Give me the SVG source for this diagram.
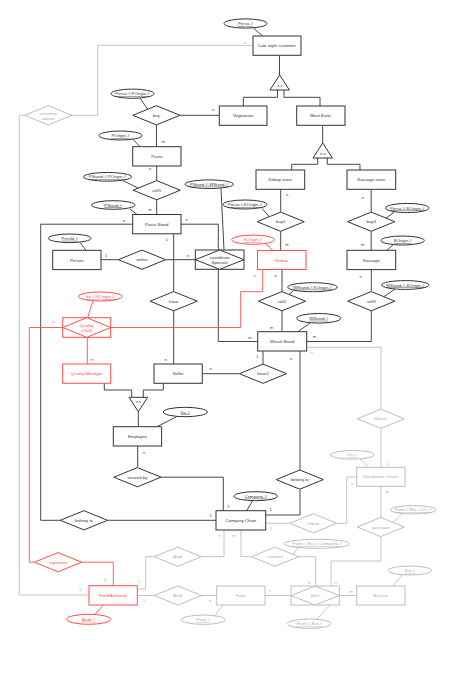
<svg xmlns="http://www.w3.org/2000/svg" width="454" height="687" viewBox="0 0 454 687">
<style>
text{font-family:"Liberation Sans",Arial,sans-serif;font-size:4.3px;text-anchor:middle;dominant-baseline:central}
.k rect,.k polygon,.k ellipse{fill:#fff;stroke:#333;stroke-width:1}
.k text{fill:#333}
.g rect,.g polygon,.g ellipse{fill:#fff;stroke:#bdbdbd;stroke-width:1}
.g text{fill:#aaa}
.r rect,.r polygon,.r ellipse{fill:#fff;stroke:#ff4d4d;stroke-width:1}
.r text{fill:#ff4d4d}
.u{text-decoration:underline}
.tri{font-size:3.4px}
#connectors polyline,#connectors line{fill:none;stroke-width:0.9}
.lk{stroke:#333}.lg{stroke:#bdbdbd}.lr{stroke:#ff4d4d}
.lbl{font-size:4px}
.tk{fill:#333}.tg{fill:#aaa}.tr{fill:#ff4d4d}
</style>
<rect width="454" height="687" fill="#fff"/>
<g id="connectors">
<!-- black -->
<polyline class="lk" points="279.5,55.3 279.5,75"/>
<polyline class="lk" points="277.5,90 277.5,97.3 243.3,97.3 243.3,106"/>
<polyline class="lk" points="284,90 284,97.3 320,97.3 320,106"/>
<polyline class="lk" points="322.7,125.3 322.7,143"/>
<polyline class="lk" points="317.7,158 317.7,164.3 291.7,164.3 291.7,170"/>
<polyline class="lk" points="327.3,158 327.3,164.3 360,164.3 360,170"/>
<polyline class="lk" points="280.7,189.3 280.7,212.1"/>
<polyline class="lk" points="280.7,231.3 280.7,250.5"/>
<polyline class="lk" points="371.2,189.3 371.2,212.1"/>
<polyline class="lk" points="371.2,231.3 371.2,250.3"/>
<polyline class="lk" points="282,269.5 282,291.6"/>
<polyline class="lk" points="282,310.8 282,331.7"/>
<polyline class="lk" points="371.3,269.6 371.3,291.6"/>
<polyline class="lk" points="371.3,310.8 371.3,341.5 306.7,341.5"/>
<polyline class="lk" points="180,115.3 219.3,115.3"/>
<polyline class="lk" points="156.5,124.9 156.5,146.7"/>
<polyline class="lk" points="156.7,166 156.7,180.6"/>
<polyline class="lk" points="156.7,199.8 156.7,214.5"/>
<polyline class="lk" points="132.7,224.2 40.7,224.2 40.7,520.3 60.3,520.3"/>
<polyline class="lk" points="107.5,520.3 216,520.3"/>
<polyline class="lk" points="181,224.2 218.3,224.2 218.3,250"/>
<polyline class="lk" points="173.7,233.8 173.7,291.6"/>
<polyline class="lk" points="173.7,310.8 173.7,364"/>
<polyline class="lk" points="101,259.7 118.4,259.7"/>
<polyline class="lk" points="165.6,259.7 195.3,259.7"/>
<polyline class="lk" points="218.3,269.3 218.3,341.5 257.7,341.5"/>
<polyline class="lk" points="263,351 263,364.1"/>
<polyline class="lk" points="239.4,373.7 202.3,373.7"/>
<polyline class="lk" points="300,351 300,470"/>
<polyline class="lk" points="300,489.2 300,515 265.7,515"/>
<polyline class="lk" points="104.3,383.3 104.3,390 131.7,390 131.7,397.3"/>
<polyline class="lk" points="163.3,383.3 163.3,390 143.3,390 143.3,397.3"/>
<polyline class="lk" points="138.3,411.7 138.3,426.7"/>
<polyline class="lk" points="137.7,446 137.7,467.6"/>
<polyline class="lk" points="161,477.2 223.3,477.2 223.3,510.7"/>
<line class="lk" x1="253.5" y1="28.2" x2="262.7" y2="36"/>
<line class="lk" x1="140" y1="98.2" x2="147.5" y2="109"/>
<line class="lk" x1="133.3" y1="139.6" x2="140" y2="146.7"/>
<line class="lk" x1="123" y1="180.6" x2="138" y2="188"/>
<line class="lk" x1="130" y1="209" x2="137" y2="214.5"/>
<line class="lk" x1="221" y1="188.4" x2="224" y2="250"/>
<line class="lk" x1="262" y1="208.3" x2="269" y2="216.6"/>
<line class="lk" x1="394" y1="212.4" x2="386" y2="218"/>
<line class="lk" x1="393" y1="244.8" x2="387" y2="250.3"/>
<line class="lk" x1="293" y1="291.2" x2="289" y2="294.5"/>
<line class="lk" x1="395" y1="289" x2="384" y2="296.6"/>
<line class="lk" x1="310" y1="323" x2="298" y2="331.7"/>
<line class="lk" x1="80" y1="242.4" x2="86" y2="250.3"/>
<line class="lk" x1="177" y1="416.5" x2="157" y2="426.7"/>
<line class="lk" x1="252.7" y1="500.6" x2="246.7" y2="510.7"/>
<!-- gray -->
<polyline class="lg" points="253,45.3 97.7,45.3 97.7,115.3 71.9,115.3"/>
<polyline class="lg" points="24.7,115.3 19.3,115.3 19.3,595 89,595"/>
<polyline class="lg" points="306.7,347.3 381,347.3 381,409.2"/>
<polyline class="lg" points="381,428.4 381,467.3"/>
<polyline class="lg" points="356.7,477 346.7,477 346.7,523.3 336.9,523.3"/>
<polyline class="lg" points="289.7,523.3 265.7,523.3"/>
<polyline class="lg" points="381,486.3 381,517.4"/>
<polyline class="lg" points="381,536.6 381,561 331,561 331,586"/>
<polyline class="lg" points="298.6,556.7 315.7,556.7 315.7,586"/>
<polyline class="lg" points="241,530 241,556.7 251.4,556.7"/>
<polyline class="lg" points="224,530 224,556.7 201.4,556.7"/>
<polyline class="lg" points="154.2,556.7 145.7,556.7 145.7,589 137.3,589"/>
<polyline class="lg" points="137.3,595.5 154.2,595.5"/>
<polyline class="lg" points="201.4,595.5 216.7,595.5"/>
<polyline class="lg" points="265,595.5 291,595.5"/>
<polyline class="lg" points="339.3,595.5 356.7,595.5"/>
<line class="lg" x1="360" y1="459" x2="368" y2="467.3"/>
<line class="lg" x1="402" y1="513.7" x2="393" y2="522.3"/>
<line class="lg" x1="298" y1="548" x2="293" y2="554.5"/>
<line class="lg" x1="402" y1="575" x2="393.3" y2="586"/>
<line class="lg" x1="317" y1="619" x2="330" y2="605"/>
<line class="lg" x1="215" y1="615.3" x2="223" y2="605"/>
<!-- red -->
<polyline class="lr" points="262.7,269.5 262.7,291.7 240.7,291.7 240.7,327.5 110.7,327.5"/>
<polyline class="lr" points="62.7,327.5 29.3,327.5 29.3,562.2 34.4,562.2"/>
<polyline class="lr" points="87.3,337.3 87.3,364"/>
<polyline class="lr" points="81.6,562.2 113.3,562.2 113.3,585.7"/>
<line class="lr" x1="266" y1="244.1" x2="273" y2="250.5"/>
<line class="lr" x1="93" y1="301" x2="87.5" y2="318"/>
<line class="lr" x1="95" y1="614.3" x2="103.3" y2="605"/>
<!-- labels -->
<text class="lbl tk" x="287" y="194">n</text>
<text class="lbl tk" x="287" y="244">m</text>
<text class="lbl tk" x="362.7" y="197">n</text>
<text class="lbl tk" x="362.7" y="244">m</text>
<text class="lbl tk" x="275.7" y="275.5">n</text>
<text class="lbl tk" x="271.7" y="327">m</text>
<text class="lbl tk" x="360.7" y="276">n</text>
<text class="lbl tk" x="314.3" y="336.5">m</text>
<text class="lbl tk" x="213.3" y="109.5">n</text>
<text class="lbl tk" x="163.3" y="141.5">m</text>
<text class="lbl tk" x="150" y="168.7">n</text>
<text class="lbl tk" x="150" y="209">m</text>
<text class="lbl tk" x="124" y="220">n</text>
<text class="lbl tk" x="210.7" y="515">1</text>
<text class="lbl tk" x="186.7" y="219.3">n</text>
<text class="lbl tk" x="166.7" y="239.3">1</text>
<text class="lbl tk" x="165.7" y="359">n</text>
<text class="lbl tk" x="106" y="255">1</text>
<text class="lbl tk" x="188.3" y="255">n</text>
<text class="lbl tk" x="250" y="337">m</text>
<text class="lbl tk" x="257.3" y="356">1</text>
<text class="lbl tk" x="210.7" y="368.3">n</text>
<text class="lbl tk" x="291" y="358">n</text>
<text class="lbl tk" x="270.7" y="509.3">1</text>
<text class="lbl tk" x="144" y="452">n</text>
<text class="lbl tk" x="228.3" y="506">1</text>
<text class="lbl tg" x="245" y="42">n</text>
<text class="lbl tg" x="80" y="589">1</text>
<text class="lbl tg" x="311.7" y="352">n</text>
<text class="lbl tg" x="387.3" y="463">1</text>
<text class="lbl tg" x="352.3" y="483">n</text>
<text class="lbl tg" x="271" y="528">1</text>
<text class="lbl tg" x="387.3" y="491">m</text>
<text class="lbl tg" x="335.7" y="582">n</text>
<text class="lbl tg" x="309.3" y="582">n</text>
<text class="lbl tg" x="234" y="535">m</text>
<text class="lbl tg" x="219.3" y="535">n</text>
<text class="lbl tg" x="139" y="581">1</text>
<text class="lbl tg" x="144" y="600">1</text>
<text class="lbl tg" x="210" y="600">n</text>
<text class="lbl tg" x="270" y="590">n</text>
<text class="lbl tg" x="351" y="591">m</text>
<text class="lbl tr" x="255" y="275.5">n</text>
<text class="lbl tr" x="53.3" y="321">n</text>
<text class="lbl tr" x="92.3" y="359">m</text>
<text class="lbl tr" x="105.3" y="579.3">1</text>
</g>
<!-- entities -->
<g id="late-night-customer" class="k"><rect x="253" y="36" width="48" height="19.3"/><text x="277" y="45.6">Late night customer</text></g>
<g id="vegetarian" class="k"><rect x="219.3" y="106" width="47.7" height="19.3"/><text x="243.2" y="115.6">Vegetarian</text></g>
<g id="meat-eater" class="k"><rect x="296.7" y="106" width="48.3" height="19.3"/><text x="320.8" y="115.6">Meat Eater</text></g>
<g id="pasta" class="k"><rect x="132.7" y="146.7" width="48.3" height="19.3"/><text x="156.8" y="156.3">Pasta</text></g>
<g id="pasta-stand" class="k"><rect x="132.7" y="214.5" width="48.3" height="19.3"/><text x="156.8" y="224.2">Pasta Stand</text></g>
<g id="person" class="k"><rect x="52.7" y="250.3" width="48.3" height="19.3"/><text x="76.8" y="260">Person</text></g>
<g id="kebap-eater" class="k"><rect x="256" y="170" width="48.7" height="19.3"/><text x="280.3" y="179.7">Kebap eater</text></g>
<g id="sausage-eater" class="k"><rect x="347" y="170" width="48.7" height="19.3"/><text x="371.3" y="179.7">Sausage eater</text></g>
<g id="kebap" class="r"><rect x="257.5" y="250.5" width="48.5" height="19"/><text x="281.7" y="260">Kebap</text></g>
<g id="sausage" class="k"><rect x="347" y="250.3" width="48.7" height="19.3"/><text x="371.3" y="260">Sausage</text></g>
<g id="wurstl-stand" class="k"><rect x="257.7" y="331.7" width="49" height="19.3"/><text x="282.2" y="341.3">Würstl Stand</text></g>
<g id="quality-manager" class="r"><rect x="62.7" y="364" width="48" height="19.3"/><text x="86.7" y="373.7">Quality Manager</text></g>
<g id="seller" class="k"><rect x="154" y="364" width="48.3" height="19.3"/><text x="178.2" y="373.7">Seller</text></g>
<g id="employee" class="k"><rect x="113.3" y="426.7" width="48.3" height="19.3"/><text x="137.5" y="436.3">Employee</text></g>
<g id="distribution-centre" class="g"><rect x="356.7" y="467.3" width="48.3" height="19"/><text x="380.8" y="476.8">Distribution Centre</text></g>
<g id="company-chain" class="k"><rect x="216" y="510.7" width="49.7" height="19.3"/><text x="240.8" y="520.3">Company Chain</text></g>
<g id="food-authority" class="r"><rect x="89" y="585.7" width="48.3" height="19.3"/><text x="113.2" y="595.3">Food Authority</text></g>
<g id="farm" class="g"><rect x="216.7" y="586" width="48.3" height="19"/><text x="240.8" y="595.5">Farm</text></g>
<g id="butcher" class="g"><rect x="356.7" y="586" width="48.3" height="19"/><text x="380.8" y="595.5">Butcher</text></g>
<!-- associative entities -->
<g id="coordinate-specials" class="k"><rect x="195.3" y="250" width="48.7" height="19.3"/><polygon points="195.3,259.7 219.7,250 244,259.7 219.7,269.3"/><text x="219.7" y="257.2">coordinate</text><text x="219.7" y="262.2">Specials</text></g>
<g id="quality-check" class="r"><rect x="62.7" y="317.7" width="48" height="19.6"/><polygon points="62.7,327.5 86.7,317.7 110.7,327.5 86.7,337.3"/><text x="86.7" y="325">Quality</text><text x="86.7" y="330">check</text></g>
<g id="beef" class="g"><rect x="291" y="586" width="48.3" height="19"/><polygon points="291,595.5 315.2,586 339.3,595.5 315.2,605"/><text x="315.2" y="595.5">Beef</text></g>
<!-- is-a -->
<g id="isa-1" class="k"><polygon points="279.7,75 270,90 289.4,90"/><text class="tri" x="279.7" y="86">is a</text></g>
<g id="isa-2" class="k"><polygon points="322.7,143 313,158 332.4,158"/><text class="tri" x="322.7" y="154">is a</text></g>
<g id="isa-3" class="k"><polygon points="129,397.3 147.7,397.3 138.3,411.7"/><text class="tri" x="138.3" y="401.5">is a</text></g>
<!-- relationships -->
<g id="customer-advice" class="g"><polygon points="24.7,115.3 48.3,105.7 71.9,115.3 48.3,124.9"/><text x="48.3" y="113">customer</text><text x="48.3" y="118">advice</text></g>
<g id="buy" class="k"><polygon points="132.8,115.3 156.4,105.7 180,115.3 156.4,124.9"/><text x="156.4" y="115.3">buy</text></g>
<g id="sell1" class="k"><polygon points="133.1,190.2 156.7,180.6 180.3,190.2 156.7,199.8"/><text x="156.7" y="190.2">sell1</text></g>
<g id="buy2" class="k"><polygon points="257.1,221.7 280.7,212.1 304.3,221.7 280.7,231.3"/><text x="280.7" y="221.7">buy2</text></g>
<g id="buy3" class="k"><polygon points="347.6,221.7 371.2,212.1 394.8,221.7 371.2,231.3"/><text x="371.2" y="221.7">buy3</text></g>
<g id="within" class="k"><polygon points="118.4,259.7 142,250.1 165.6,259.7 142,269.3"/><text x="142" y="259.7">within</text></g>
<g id="have" class="k"><polygon points="150.1,301.2 173.7,291.6 197.3,301.2 173.7,310.8"/><text x="173.7" y="301.2">have</text></g>
<g id="sell2" class="k"><polygon points="258.4,301.2 282,291.6 305.6,301.2 282,310.8"/><text x="282" y="301.2">sell2</text></g>
<g id="sell3" class="k"><polygon points="347.7,301.2 371.3,291.6 394.9,301.2 371.3,310.8"/><text x="371.3" y="301.2">sell3</text></g>
<g id="have2" class="k"><polygon points="239.4,373.7 263,364.1 286.6,373.7 263,383.3"/><text x="263" y="373.7">have2</text></g>
<g id="deliver" class="g"><polygon points="357.2,418.8 380.8,409.2 404.4,418.8 380.8,428.4"/><text x="380.8" y="418.8">deliver</text></g>
<g id="insured-by" class="k"><polygon points="113.8,477.2 137.4,467.6 161,477.2 137.4,486.8"/><text x="137.4" y="477.2">insured by</text></g>
<g id="belong-to-right" class="k"><polygon points="276.2,479.6 299.8,470 323.4,479.6 299.8,489.2"/><text x="299.8" y="479.6">belong to</text></g>
<g id="belong-to-left" class="k"><polygon points="60.3,520.3 83.9,510.7 107.5,520.3 83.9,529.9"/><text x="83.9" y="520.3">belong to</text></g>
<g id="inform" class="g"><polygon points="289.7,523.3 313.3,513.7 336.9,523.3 313.3,532.9"/><text x="313.3" y="523.3">inform</text></g>
<g id="purchase" class="g"><polygon points="357.2,527 380.8,517.4 404.4,527 380.8,536.6"/><text x="380.8" y="527">purchase</text></g>
<g id="contract" class="g"><polygon points="251.4,556.7 275,547.1 298.6,556.7 275,566.3"/><text x="275" y="556.7">contract</text></g>
<g id="audit-upper" class="g"><polygon points="154.2,556.7 177.8,547.1 201.4,556.7 177.8,566.3"/><text x="177.8" y="556.7">Audit</text></g>
<g id="audit-lower" class="g"><polygon points="154.2,595.5 177.8,585.9 201.4,595.5 177.8,605.1"/><text x="177.8" y="595.5">Audit</text></g>
<g id="supervise" class="r"><polygon points="34.4,562.2 58,552.6 81.6,562.2 58,571.8"/><text x="58" y="562.2">supervise</text></g>
<!-- attributes -->
<g id="attr-perso" class="k"><ellipse cx="245.5" cy="23.5" rx="21.5" ry="4.6"/><text class="u" x="245.5" y="23.5">Perso-#</text></g>
<g id="attr-perso-porigin" class="k"><ellipse cx="132.5" cy="93.7" rx="21.5" ry="4.6"/><text class="u" x="132.5" y="93.7">Perso-#,POrigin-#</text></g>
<g id="attr-porigin" class="k"><ellipse cx="120.5" cy="135.5" rx="21.5" ry="4.5"/><text class="u" x="120.5" y="135.5">POrigin-#</text></g>
<g id="attr-pstand-porigin" class="k"><ellipse cx="107.5" cy="176.8" rx="24" ry="4.3"/><text class="u" x="107.5" y="176.8">PStand-#,POrigin-#</text></g>
<g id="attr-pstand" class="k"><ellipse cx="113.3" cy="205" rx="21.7" ry="4.3"/><text class="u" x="113.3" y="205">PStand-#</text></g>
<g id="attr-pstand-wstand" class="k"><ellipse cx="209.2" cy="184.2" rx="24.2" ry="4.3"/><text class="u" x="209.2" y="184.2">PStand-#,WStand-#</text></g>
<g id="attr-perso-korigin" class="k"><ellipse cx="245" cy="204.5" rx="22" ry="4.5"/><text class="u" x="245" y="204.5">Perso-#,KOrigin-#</text></g>
<g id="attr-korigin" class="r"><ellipse cx="253" cy="239.7" rx="21.3" ry="4.6"/><text class="u" x="253" y="239.7">KOrigin-#</text></g>
<g id="attr-perso-sorigin" class="k"><ellipse cx="407.3" cy="208" rx="21.7" ry="4.6"/><text class="u" x="407.3" y="208">Perso-#,SOrigin-#</text></g>
<g id="attr-sorigin" class="k"><ellipse cx="402.7" cy="240.5" rx="21.7" ry="4.5"/><text class="u" x="402.7" y="240.5">SOrigin-#</text></g>
<g id="attr-wstand-korigin" class="k"><ellipse cx="312.5" cy="287.2" rx="24.8" ry="4.5"/><text class="u" x="312.5" y="287.2">WStand-#,KOrigin-#</text></g>
<g id="attr-wstand-sorigin" class="k"><ellipse cx="405.3" cy="285" rx="23.7" ry="4.4"/><text class="u" x="405.3" y="285">WStand-#,SOrigin-#</text></g>
<g id="attr-wstand" class="k"><ellipse cx="318.7" cy="318.3" rx="22" ry="4.8"/><text class="u" x="318.7" y="318.3">WStand-#</text></g>
<g id="attr-persid" class="k"><ellipse cx="69.7" cy="238.3" rx="21.3" ry="4.3"/><text class="u" x="69.7" y="238.3">PersId-#</text></g>
<g id="attr-ins-korigin" class="r"><ellipse cx="100.2" cy="296.5" rx="21.8" ry="4.5"/><text class="u" x="100.2" y="296.5">Ins-#,KOrigin-#</text></g>
<g id="attr-ins" class="k"><ellipse cx="185.3" cy="412" rx="22" ry="4.7"/><text class="u" x="185.3" y="412">Ins-#</text></g>
<g id="attr-dc" class="g"><ellipse cx="352.5" cy="454.8" rx="21.8" ry="4.3"/><text class="u" x="352.5" y="454.8">DC-#</text></g>
<g id="attr-company" class="k"><ellipse cx="255.7" cy="496.2" rx="21.7" ry="4.5"/><text class="u" x="255.7" y="496.2">Company-#</text></g>
<g id="attr-farm-but-dc" class="g"><ellipse cx="413.3" cy="509.8" rx="22.7" ry="4.2"/><text class="u" x="413.3" y="509.8">Farm-#,But-#,DC-#</text></g>
<g id="attr-farm-but-company" class="g"><ellipse cx="317.2" cy="543.8" rx="32.8" ry="4.5"/><text class="u" x="317.2" y="543.8">Farm-#,But-#,Company-#</text></g>
<g id="attr-but" class="g"><ellipse cx="410" cy="570.5" rx="21.7" ry="4.5"/><text class="u" x="410" y="570.5">But-#</text></g>
<g id="attr-farm-but" class="g"><ellipse cx="309.3" cy="623.7" rx="21.7" ry="4.7"/><text class="u" x="309.3" y="623.7">Farm-#,But-#</text></g>
<g id="attr-farm" class="g"><ellipse cx="203.3" cy="619.7" rx="21.7" ry="4.7"/><text class="u" x="203.3" y="619.7">Farm-#</text></g>
<g id="attr-audit" class="r"><ellipse cx="88.7" cy="619.3" rx="22" ry="5"/><text class="u" x="88.7" y="619.3">Audit-#</text></g>
</svg>
